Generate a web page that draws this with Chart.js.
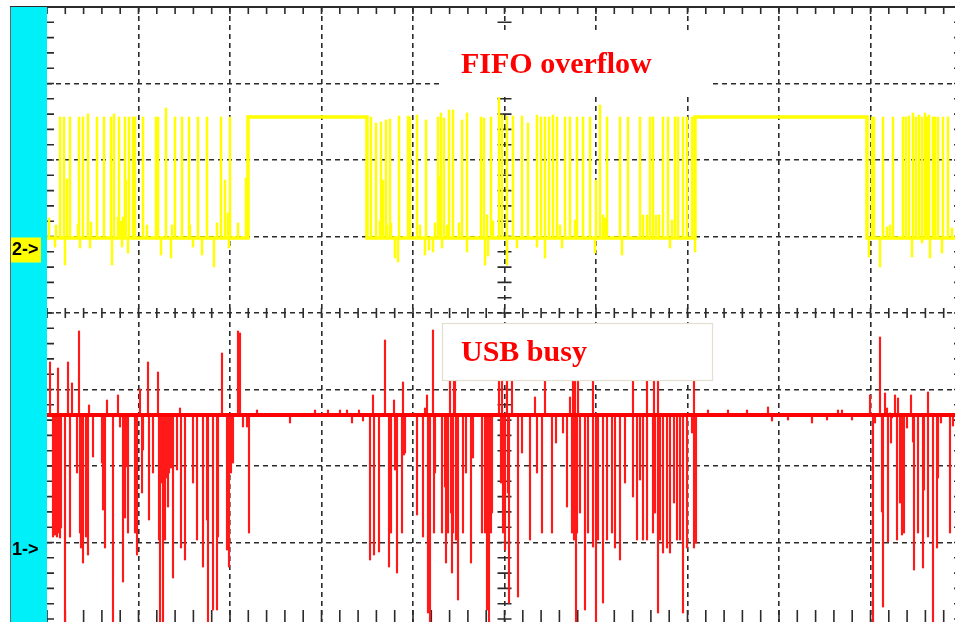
<!DOCTYPE html>
<html><head><meta charset="utf-8">
<script src="https://cdn.jsdelivr.net/npm/chart.js@4.4.1/dist/chart.umd.min.js"></script>
<style>
html,body{margin:0;padding:0;background:#fff;overflow:hidden;width:955px;height:622px}
#wrap{position:absolute;left:0;top:0;width:965px;height:630px}
</style></head><body>
<div id="wrap"><canvas id="c" width="965" height="630"></canvas></div>
<script>
// Oscilloscope capture: time in samples (91.5 samples / division), level in counts (76.5 counts / division)
const xDivisions = [0, 91.5, 183, 274.5, 366, 457.5, 549, 640.5, 732, 823.5, 915];
const yDivisions = [306, 229.5, 153, 76.5, 0, -76.5, -153, -229.5, -306];

// Channel 2 (yellow): FIFO overflow flag
const ch2Low = 75;
const ch2High = 196;
const ch2HighIntervals = [[201, 320], [648, 820]];
// [time, tip level] of each pulse / glitch on the low level
const ch2Spikes = [
  [2,95],[8,66],[9,88],[13,196],[17,196],[18,48],[20,134],[23,196],[31,89],[32,196],[33,65],[36,196],
  [41,199],[43,65],[44,91],[50,196],[57,196],[64,196],[65,48],[67,199],[71,96],[72,196],[74,92],[75,66],
  [76,96],[78,196],[79,133],[81,60],[82,196],[86,196],[88,196],[96,196],[100,88],[109,196],[111,196],
  [114,58],[119,205],[124,55],[125,88],[128,196],[135,196],[142,196],[143,88],[146,66],[151,196],[155,58],
  [160,196],[167,46],[170,90],[174,196],[178,133],[181,100],[182,65],[183,196],[191,90],[199,135],
  [324,196],[329,190],[333,92],[334,191],[336,133],[339,193],[340,88],[343,194],[344,90],[348,55],[351,51],
  [352,197],[361,197],[363,196],[370,198],[373,88],[378,58],[379,193],[382,63],[386,61],[388,90],[391,196],
  [393,136],[394,200],[395,65],[397,195],[400,88],[402,203],[406,203],[412,90],[415,193],[420,200],[420,61],
  [434,196],[437,195],[438,48],[440,98],[441,57],[444,196],[446,92],[452,218],[455,198],[460,197],[460,48],
  [466,197],[470,65],[475,197],[481,190],[490,198],[490,66],[494,196],[498,196],[498,55],[502,196],[506,198],
  [510,196],[513,88],[515,65],[518,196],[523,196],[528,93],[530,196],[536,196],[543,196],[548,60],[549,133],
  [553,208],[556,98],[558,95],[560,196],[573,196],[575,58],[581,196],[593,196],[596,98],[600,98],[603,196],
  [606,196],[609,98],[612,98],[616,196],[621,196],[623,65],[625,93],[628,196],[631,196],[636,196],[640,196],
  [645,196],[648,61],
  [822,56],[825,196],[827,196],[833,46],[836,196],[840,86],[843,88],[846,196],[856,196],[859,196],[862,197],
  [865,56],[866,200],[869,196],[872,198],[875,196],[875,70],[878,200],[880,196],[881,88],[882,198],[883,55],
  [886,196],[888,196],[891,196],[895,60],[896,196],[901,196],[905,85]
];

// Channel 1 (red): USB busy
const ch1Base = -102;
// [time, tip level] of each spike off the base level
const ch1Spikes = [
  [3,-49],[6,-224],[7,-215],[8,-222],[9,-210],[10,-224],[11,-55],[12,-220],[13,-225],[14,-215],[18,-315],
  [21,-49],[23,-224],[25,-70],[30,-160],[32,-18],[33,-220],[34,-235],[36,-250],[39,-224],[41,-242],[42,-92],
  [46,-144],[55,-150],[56,-197],[58,-235],[60,-87],[66,-315],[71,-82],[73,-114],[76,-269],[78,-205],[80,-154],
  [81,-220],[88,-220],[90,-242],[93,-76],[95,-180],[96,-137],[101,-49],[102,-207],[106,-160],[111,-59],
  [112,-227],[113,-315],[114,-160],[115,-170],[116,-315],[117,-150],[118,-227],[119,-165],[120,-134],
  [121,-194],[122,-160],[124,-155],[126,-265],[130,-157],[133,-95],[134,-235],[138,-247],[146,-170],
  [150,-227],[156,-254],[160,-207],[161,-315],[166,-297],[170,-297],[171,-224],[175,-40],[180,-237],
  [182,-254],[183,-140],[184,-160],[186,-150],[191,-18],[193,-20],[196,-114],[200,-114],[202,-220],
  [210,-97],[243,-110],[268,-97],[281,-97],[293,-97],[300,-97],[305,-110],[312,-97],
  [316,-108],[323,-247],[326,-82],[327,-242],[332,-239],[338,-27],[342,-254],[344,-220],[347,-87],[348,-157],
  [350,-260],[355,-220],[356,-69],[357,-142],[358,-140],[370,-202],[376,-224],[378,-95],[380,-82],[381,-300],
  [383,-315],[386,-17],[387,-220],[388,-160],[395,-220],[398,-174],[399,-250],[401,-220],[403,-40],[404,-200],
  [405,-260],[406,-220],[407,-40],[408,-40],[409,-227],[411,-287],[416,-220],[419,-160],[424,-250],[426,-145],
  [435,-220],[438,-220],[439,-150],[440,-297],[441,-220],[442,-315],[444,-220],[445,-200],[452,-40],[454,-170],
  [455,-40],[456,-220],[458,-237],[460,-40],[461,-180],[462,-290],[465,-40],[471,-284],[475,-140],[483,-227],
  [488,-84],[490,-160],[495,-220],[498,-40],[505,-220],[509,-130],[516,-120],[520,-194],[523,-84],[525,-220],
  [526,-40],[527,-227],[528,-40],[529,-315],[530,-220],[531,-40],[533,-200],[538,-297],[541,-220],[546,-234],
  [546,-40],[549,-315],[551,-227],[556,-290],[560,-227],[565,-220],[568,-235],[573,-247],[578,-170],[586,-184],
  [586,-40],[590,-227],[593,-167],[596,-227],[600,-227],[600,-40],[606,-220],[607,-40],[608,-200],[611,-300],
  [611,-40],[613,-227],[616,-240],[620,-235],[623,-240],[627,-190],[630,-227],[633,-227],[636,-300],[640,-235],
  [645,-120],[647,-235],[647,-40],[649,-230],
  [661,-97],[681,-97],[700,-97],[721,-94],[725,-108],[741,-107],[765,-110],[780,-107],[791,-97],[795,-97],[805,-107],
  [823,-82],[826,-315],[828,-110],[833,-24],[835,-199],[836,-294],[838,-80],[840,-95],[841,-229],[843,-100],
  [844,-130],[845,-105],[848,-82],[850,-227],[851,-85],[853,-190],[855,-222],[857,-220],[860,-115],[864,-82],
  [866,-129],[867,-257],[871,-220],[876,-255],[877,-177],[881,-224],[881,-79],[886,-315],[890,-235],[891,-165],
  [894,-110],[903,-220],[906,-113]
];

// Annotations (time, level coordinates)
const fifoLabel = {text: 'FIFO overflow', box: [393, 280, 666, 216], at: [414, 240]};
const usbLabel = {text: 'USB busy', box: [395, -10, 666, -68], at: [414, -48]};
const channelMarkers = [{text: '2->', level: 63, fill: '#ffff00'}, {text: '1->', level: -237, fill: null}];

// ---- build library data ----
const ch2Envelope = [{x: 0, y: ch2Low}];
ch2HighIntervals.forEach(([a, b]) => {
  ch2Envelope.push({x: a, y: ch2Low}, {x: a, y: ch2High}, {x: b, y: ch2High}, {x: b, y: ch2Low});
});
ch2Envelope.push({x: 915, y: ch2Low});
const ch2Bars = ch2Spikes.map(([t, v]) => ({x: t, y: [ch2Low, v]}));
const ch1Line = [{x: 0, y: ch1Base}, {x: 915, y: ch1Base}];
const ch1Bars = ch1Spikes.map(([t, v]) => ({x: t, y: [ch1Base, v]}));

const GRID = '#2b2b2b';
const graticule = {
  id: 'graticule',
  beforeDatasetsDraw(chart) {
    const {ctx, chartArea: a, scales: {x, y}} = chart;
    ctx.save();
    ctx.strokeStyle = GRID;
    ctx.lineWidth = 1.6;
    const x0 = x.getPixelForValue(457.5), y0 = y.getPixelForValue(0);
    const yBottom = y.getPixelForValue(-306);
    ctx.beginPath();
    for (let i = 0; i <= 50; i++) {
      const px = x.getPixelForValue(i * 18.3);
      ctx.moveTo(px, a.top); ctx.lineTo(px, a.top + 7);
      ctx.moveTo(px, yBottom - 9); ctx.lineTo(px, a.bottom + 4);
      ctx.moveTo(px, y0 - 5); ctx.lineTo(px, y0 + 5);
    }
    for (let i = 0; i <= 40; i++) {
      const py = y.getPixelForValue(306 - i * 15.3);
      ctx.moveTo(a.left, py); ctx.lineTo(a.left + 7, py);
      ctx.moveTo(a.right - 8, py); ctx.lineTo(a.right, py);
      ctx.moveTo(x0 - 7, py); ctx.lineTo(x0 + 7, py);
    }
    ctx.stroke();
    ctx.lineWidth = 2;
    ctx.beginPath();
    ctx.moveTo(10, a.top); ctx.lineTo(a.right, a.top);
    ctx.stroke();
    ctx.restore();
  },
  afterDatasetsDraw(chart) {
    const {ctx, scales: {x, y}} = chart;
    ctx.save();
    [fifoLabel, usbLabel].forEach((L, i) => {
      const bx1 = x.getPixelForValue(L.box[0]), by1 = y.getPixelForValue(L.box[1]);
      const bx2 = x.getPixelForValue(L.box[2]), by2 = y.getPixelForValue(L.box[3]);
      ctx.fillStyle = '#ffffff';
      ctx.fillRect(bx1, by1, bx2 - bx1, by2 - by1);
      if (i === 1) {
        ctx.strokeStyle = '#e3dfd0'; ctx.lineWidth = 1.2;
        ctx.strokeRect(bx1 + 0.5, by1 + 0.5, bx2 - bx1 - 1, by2 - by1 - 1);
      }
      ctx.fillStyle = '#ff0000';
      ctx.font = 'bold 30px "Liberation Serif", "Times New Roman", serif';
      ctx.textBaseline = 'alphabetic';
      ctx.fillText(L.text, x.getPixelForValue(L.at[0]), y.getPixelForValue(L.at[1]));
    });
    ctx.restore();
  },
  afterDraw(chart) {
    const {ctx, chartArea: a, scales: {y}} = chart;
    ctx.save();
    ctx.fillStyle = '#00f0fa';
    ctx.fillRect(11, a.top, a.left - 11, 640);
    ctx.fillStyle = '#666';
    ctx.fillRect(10, a.top, 1, 640);
    channelMarkers.forEach(m => {
      const py = y.getPixelForValue(m.level);
      if (m.fill) { ctx.fillStyle = m.fill; ctx.fillRect(11, py - 12.5, 30, 25); }
      ctx.fillStyle = '#000';
      ctx.font = 'bold 18px "Liberation Sans", Arial, sans-serif';
      ctx.textBaseline = 'middle';
      ctx.fillText(m.text, 12, py + 0.5);
    });
    ctx.restore();
  }
};

const gridColor = (edges) => (c) => edges.includes(c.tick.value) ? 'rgba(0,0,0,0)' : GRID;

new Chart(document.getElementById('c'), {
  type: 'line',
  data: {
    datasets: [
      {type: 'line', data: ch2Envelope, borderColor: '#ffff00', borderWidth: 3.5, pointRadius: 0, tension: 0},
      {type: 'bar', data: ch2Bars, backgroundColor: '#ffff00', barThickness: 1.8, grouped: false, borderWidth: 0},
      {type: 'line', data: ch1Line, borderColor: '#ff0000', borderWidth: 4, pointRadius: 0, tension: 0},
      {type: 'bar', data: ch1Bars, backgroundColor: '#ff1a1a', barThickness: 1.5, grouped: false, borderWidth: 0}
    ]
  },
  options: {
    responsive: false, animation: false, devicePixelRatio: 1,
    layout: {padding: {left: 47, top: 7, right: 3, bottom: 4}},
    plugins: {legend: {display: false}, tooltip: {enabled: false}},
    scales: {
      x: {
        type: 'linear', min: 0, max: 915, offset: false,
        afterBuildTicks: s => { s.ticks = xDivisions.map(v => ({value: v})); },
        ticks: {display: false},
        grid: {color: gridColor([0, 915]), lineWidth: 1.6, drawTicks: false, offset: false},
        border: {display: false, dash: [5, 4]}
      },
      y: {
        type: 'linear', min: -313, max: 306,
        afterBuildTicks: s => { s.ticks = yDivisions.map(v => ({value: v})); },
        ticks: {display: false},
        grid: {color: gridColor([306, -306]), lineWidth: 1.6, drawTicks: false},
        border: {display: false, dash: [5, 4]}
      }
    }
  },
  plugins: [graticule]
});
</script>
</body></html>
